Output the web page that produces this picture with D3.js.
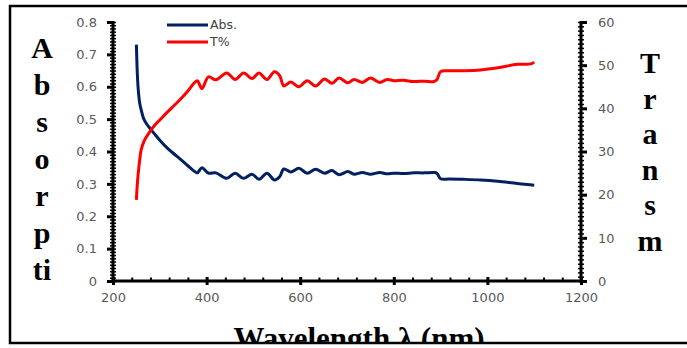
<!DOCTYPE html>
<html lang="en">
<head>
<meta charset="UTF-8">
<title>Absorbance and Transmittance vs Wavelength</title>
<script src="https://cdn.jsdelivr.net/npm/d3@7"></script>
<style>
  body { margin: 0; background: #fff; }
  svg { display: block; }
</style>
</head>
<body>
<div id="container"></div>
<script>
  // wavelength (nm), shared by both curves
  const wavelength = [250, 252, 254, 257, 260, 266, 272, 280, 290, 300, 315, 330, 345, 360, 372, 380,
    390, 404, 420, 443, 461, 479, 497, 512, 529, 545, 556, 565, 580, 597, 615, 633, 652, 668, 683,
    702, 715, 733, 750, 770, 786, 800, 820, 843, 865, 886, 892, 900, 918, 950, 986, 1022, 1064, 1093, 1100];

  // Abs. (left axis)
  const absorbance = [0.730, 0.640, 0.590, 0.550, 0.530, 0.500, 0.485, 0.470, 0.452, 0.435, 0.412, 0.393,
    0.375, 0.356, 0.341, 0.334, 0.350, 0.333, 0.334, 0.317, 0.333, 0.317, 0.330, 0.314, 0.333, 0.312,
    0.322, 0.346, 0.337, 0.348, 0.333, 0.345, 0.333, 0.341, 0.328, 0.338, 0.330, 0.335, 0.330, 0.335,
    0.331, 0.333, 0.332, 0.334, 0.334, 0.335, 0.333, 0.316, 0.315, 0.314, 0.312, 0.308, 0.301, 0.297, 0.296];

  // T% (right axis)
  const transmittance = [18.8, 22.5, 25.0, 28.0, 30.3, 32.3, 33.5, 34.8, 36.2, 37.3, 39.0, 40.6,
    42.2, 44.0, 45.7, 46.4, 44.6, 47.3, 46.6, 48.2, 46.7, 48.2, 46.9, 48.2, 46.7, 48.5,
    47.6, 45.2, 46.1, 45.0, 46.4, 45.2, 46.8, 45.8, 47.0, 45.9, 46.7, 46.0, 47.0, 46.0,
    46.7, 46.4, 46.5, 46.2, 46.3, 46.2, 46.6, 48.5, 48.7, 48.7, 48.9, 49.4, 50.2, 50.3, 50.7];

  const xTicks = [200, 400, 600, 800, 1000, 1200];
  const yLeftTicks = [0, 0.1, 0.2, 0.3, 0.4, 0.5, 0.6, 0.7, 0.8];
  const yRightTicks = [0, 10, 20, 30, 40, 50, 60];
  const leftTitle = ["A", "b", "s", "o", "r", "p", "ti"];
  const rightTitle = ["T", "r", "a", "n", "s", "m"];

  const width = 687, height = 348;
  const mLeft = 113, mRight = 581, mTop = 22, mBottom = 281;

  const svg = d3.select("#container").append("svg")
    .attr("width", width).attr("height", height);

  const x = d3.scaleLinear().domain([200, 1200]).range([mLeft, mRight]);
  const yL = d3.scaleLinear().domain([0, 0.8]).range([mBottom, mTop]);
  const yR = d3.scaleLinear().domain([0, 60]).range([mBottom, mTop]);

  const tickFont = "'DejaVu Sans', sans-serif";
  const labelGrey = "#595959";

  // minor ticks
  svg.append("g").attr("transform", `translate(${mLeft},0)`)
    .call(d3.axisLeft(yL).tickValues(d3.range(0, 81).map(i => i / 100)).tickSize(3).tickSizeOuter(0).tickFormat(""))
    .call(g => g.selectAll(".tick line").attr("x2", 3).attr("x1", -3).attr("stroke-width", 1.5))
    .call(g => g.select(".domain").remove());
  svg.append("g").attr("transform", `translate(${mRight},0)`)
    .call(d3.axisRight(yR).tickValues(d3.range(0, 61)).tickSize(3).tickSizeOuter(0).tickFormat(""))
    .call(g => g.selectAll(".tick line").attr("x1", -3).attr("x2", 3).attr("stroke-width", 1.5))
    .call(g => g.select(".domain").remove());
  svg.append("g").attr("transform", `translate(0,${mBottom})`)
    .call(d3.axisBottom(x).tickValues(d3.range(200, 1201, 40)).tickSize(0).tickFormat(""))
    .call(g => g.selectAll(".tick line").attr("y1", 0).attr("y2", -3.5).attr("stroke-width", 2))
    .call(g => g.select(".domain").remove());

  // major axes
  const gl = svg.append("g").attr("transform", `translate(${mLeft},0)`)
    .call(d3.axisLeft(yL).tickValues(yLeftTicks).tickSize(6).tickSizeOuter(0).tickPadding(10)
      .tickFormat(d => d === 0 ? "0" : d3.format(".1f")(d)));
  const gr = svg.append("g").attr("transform", `translate(${mRight},0)`)
    .call(d3.axisRight(yR).tickValues(yRightTicks).tickSize(6).tickSizeOuter(0).tickPadding(11));
  const gb = svg.append("g").attr("transform", `translate(0,${mBottom})`)
    .call(d3.axisBottom(x).tickValues(xTicks).tickSize(4).tickSizeOuter(0).tickPadding(8)
      .tickFormat(d3.format("d")));
  gb.selectAll(".tick line").attr("y1", -4);

  [gl, gr, gb].forEach(g => {
    g.select(".domain").attr("stroke", "#000").attr("stroke-width", 3);
    g.selectAll(".tick line").attr("stroke", "#000").attr("stroke-width", 3);
    g.selectAll(".tick text").attr("fill", labelGrey)
      .style("font-family", tickFont).style("font-size", "13px");
  });
  // end caps on vertical axes
  gl.select(".domain").attr("d", `M0,${mTop - 1}V${mBottom + 1.5}`);
  gr.select(".domain").attr("d", `M0,${mTop - 1}V${mBottom + 1.5}`);
  gb.select(".domain").attr("d", `M${mLeft - 1.5},0H${mRight + 1.5}`);

  // curves
  const rows = wavelength.map((w, i) => ({ w, a: absorbance[i], t: transmittance[i] }));
  const lineA = d3.line().x(d => x(d.w)).y(d => yL(d.a)).curve(d3.curveCatmullRom.alpha(0.5));
  const lineT = d3.line().x(d => x(d.w)).y(d => yR(d.t)).curve(d3.curveCatmullRom.alpha(0.5));

  svg.append("path").datum(rows).attr("d", lineA)
    .attr("fill", "none").attr("stroke", "#002060").attr("stroke-width", 3)
    .attr("stroke-linejoin", "round");
  svg.append("path").datum(rows).attr("d", lineT)
    .attr("fill", "none").attr("stroke", "#ff0000").attr("stroke-width", 3)
    .attr("stroke-linejoin", "round");

  // legend
  const legend = [{ name: "Abs.", color: "#002060", y: 25 }, { name: "T%", color: "#ff0000", y: 42 }];
  legend.forEach(l => {
    svg.append("line").attr("x1", 167).attr("x2", 208).attr("y1", l.y).attr("y2", l.y)
      .attr("stroke", l.color).attr("stroke-width", 3);
    svg.append("text").attr("x", 210).attr("y", l.y).attr("dy", "0.35em")
      .attr("fill", "#404040").style("font-family", tickFont).style("font-size", "12.5px")
      .text(l.name);
  });

  // vertical stacked titles
  const titleFont = "'Liberation Serif', 'Times New Roman', serif";
  leftTitle.forEach((s, i) => {
    svg.append("text").attr("x", 42).attr("y", 58 + i * 37).attr("text-anchor", "middle")
      .style("font-family", titleFont).style("font-weight", "bold").style("font-size", "30px")
      .text(s);
  });
  rightTitle.forEach((s, i) => {
    svg.append("text").attr("x", 650).attr("y", 73 + i * 35.5).attr("text-anchor", "middle")
      .style("font-family", titleFont).style("font-weight", "bold").style("font-size", "30px")
      .text(s);
  });

  // x title, clipped by the frame
  svg.append("clipPath").attr("id", "clipframe")
    .append("rect").attr("x", 0).attr("y", 0).attr("width", width).attr("height", 342);
  svg.append("text").attr("x", 359).attr("y", 349).attr("text-anchor", "middle")
    .attr("clip-path", "url(#clipframe)")
    .style("font-family", titleFont).style("font-weight", "bold").style("font-size", "31px")
    .text("Wavelength λ (nm)");

  // frame
  svg.append("rect").attr("x", 10).attr("y", 6).attr("width", 690).attr("height", 337)
    .attr("fill", "none").attr("stroke", "#000").attr("stroke-width", 2.5);
</script>
</body>
</html>
